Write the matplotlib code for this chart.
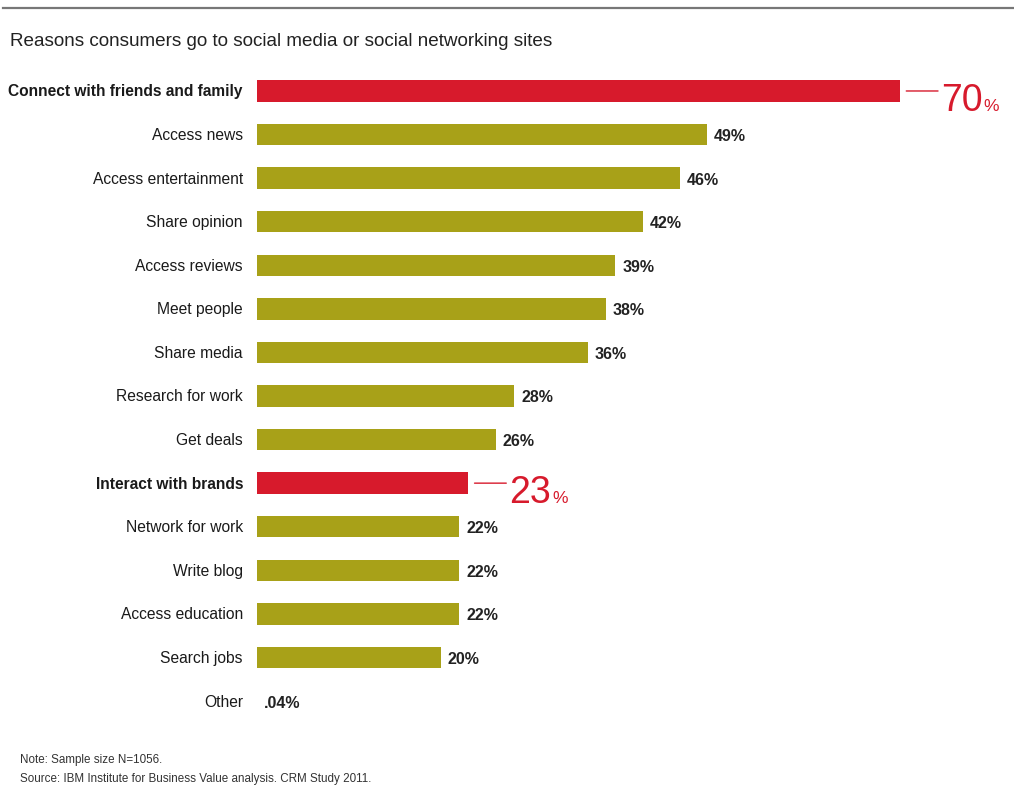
import matplotlib
matplotlib.use("Agg")
import matplotlib.pyplot as plt
from matplotlib.lines import Line2D

# Survey data
categories = [
    "Connect with friends and family", "Access news", "Access entertainment",
    "Share opinion", "Access reviews", "Meet people", "Share media",
    "Research for work", "Get deals", "Interact with brands",
    "Network for work", "Write blog", "Access education", "Search jobs", "Other",
]
values = [70, 49, 46, 42, 39, 38, 36, 28, 26, 23, 22, 22, 22, 20, 0.04]
value_labels = ["70", "49%", "46%", "42%", "39%", "38%", "36%", "28%", "26%",
                "23", "22%", "22%", "22%", "20%", ".04%"]
highlighted = ["Connect with friends and family", "Interact with brands"]

title = "Reasons consumers go to social media or social networking sites"
notes = ["Note: Sample size N=1056.",
         "Source: IBM Institute for Business Value analysis. CRM Study 2011."]

RED = "#D71A2C"
OLIVE = "#A8A118"
plt.rcParams["font.family"] = ["Liberation Sans Narrow", "Liberation Sans", "DejaVu Sans"]

W, H = 1014, 789
fig = plt.figure(figsize=(W / 100, H / 100), dpi=100)
fig.patch.set_facecolor("white")


def fit_width(txt, target_px):
    """Scale a text's font size so its rendered width equals target_px."""
    fig.canvas.draw()
    w = txt.get_window_extent().width
    txt.set_fontsize(txt.get_fontsize() * target_px / w)


# axes placed in pixel terms: value 0 at x=257, rows from y=69 to y=723
left, right = 257, 1014
top, bottom = 69.2, 722.8
ax = fig.add_axes([left / W, 1 - bottom / H, (right - left) / W, (bottom - top) / H])
ax.set_xlim(0, (right - left) / 9.186)
ax.set_ylim(len(categories) - 0.5, -0.5)
ax.axis("off")

colors = [RED if c in highlighted else OLIVE for c in categories]
ypos = list(range(len(categories)))
ax.barh(ypos, values, height=0.49, color=colors, edgecolor="none")

# reference widths for sizing the label fonts
probe_plain = fig.text(0, 0, "Access entertainment", fontsize=12)
probe_bold = fig.text(0, 0, "Connect with friends and family", fontsize=12, fontweight="bold")
probe_val = fig.text(0, 0, "49%", fontsize=12, fontweight="bold")
fit_width(probe_plain, 150)
fit_width(probe_bold, 233)
fit_width(probe_val, 32)
size_plain = probe_plain.get_fontsize()
size_bold = probe_bold.get_fontsize()
size_val = probe_val.get_fontsize()
for p in (probe_plain, probe_bold, probe_val):
    p.remove()

for i, (cat, val, lab) in enumerate(zip(categories, values, value_labels)):
    bold = cat in highlighted
    ax.annotate(cat, xy=(0, i), xytext=(-14, -1), textcoords="offset pixels",
                ha="right", va="center", fontsize=size_bold if bold else size_plain,
                fontweight="bold" if bold else "normal", color="#1a1a1a")
    if bold:
        ax.annotate("", xy=(val, i), xycoords="data",
                    xytext=(38, 0), textcoords="offset pixels",
                    arrowprops=dict(arrowstyle="-", color=RED, lw=1.0,
                                    shrinkA=0, shrinkB=4.5))
        num = ax.annotate(lab, xy=(val, i), xytext=(41, -20),
                          textcoords="offset pixels", ha="left", va="baseline",
                          fontsize=27, color=RED)
        fig.canvas.draw()
        bb = num.get_window_extent()
        x0 = ax.transData.transform((val, i))[0]
        ax.annotate("%", xy=(val, i), xytext=(bb.x1 - x0 + 1, -20),
                    textcoords="offset pixels", ha="left", va="baseline",
                    fontsize=12.5, color=RED)
    else:
        ax.annotate(lab, xy=(val, i), xytext=(7, -2), textcoords="offset pixels",
                    ha="left", va="center", fontsize=size_val, fontweight="bold",
                    color="#222222")

# header rule and title
fig.add_artist(Line2D([3 / W, 1], [1 - 8 / H, 1 - 8 / H], color="#777777", lw=1.6))
t = fig.text(10 / W, 1 - 42 / H, title, ha="left", va="center", fontsize=13,
             color="#222222")
fit_width(t, 545)

n1 = fig.text(20 / W, 1 - 760 / H, notes[0], ha="left", va="center", fontsize=8.5, color="#333333")
n2 = fig.text(20 / W, 1 - 779 / H, notes[1], ha="left", va="center", fontsize=8.5, color="#333333")
fit_width(n2, 350)
n1.set_fontsize(n2.get_fontsize())

fig.savefig("out.png", dpi=100, facecolor="white")
